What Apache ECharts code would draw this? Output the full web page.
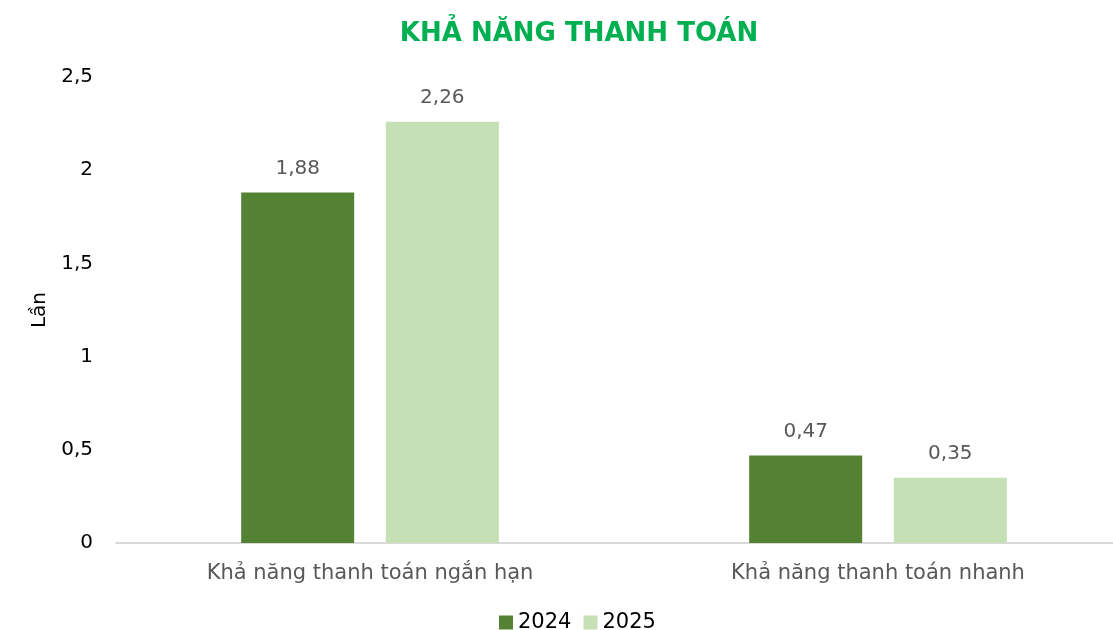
<!DOCTYPE html>
<html>
<head>
<meta charset="utf-8">
<script src="https://cdn.jsdelivr.net/npm/echarts@6/dist/echarts.min.js"></script>
<style>
  html, body { margin: 0; padding: 0; background: #fff; }
  #chart { width: 1113px; height: 630px; }
</style>
</head>
<body>
<div id="chart"></div>
<script>
const categories = ['Khả năng thanh toán ngắn hạn', 'Khả năng thanh toán nhanh'];
const values2024 = [1.88, 0.47];
const values2025 = [2.26, 0.35];

const chart = echarts.init(document.getElementById('chart'));
const font = '"DejaVu Sans", "Noto Sans", sans-serif';

const fmt = (v) => String(v).replace('.', ',');

const labelStyle = {
  show: true,
  position: 'top',
  distance: 14,
  color: '#595959',
  fontSize: 20,
  fontFamily: font,
  formatter: (p) => fmt(p.value)
};

chart.setOption({
  animation: false,
  title: {
    text: 'KHẢ NĂNG THANH TOÁN',
    left: 574,
    textAlign: 'center',
    top: 16,
    textStyle: { color: '#00b050', fontSize: 26, fontWeight: 'bold', fontFamily: font }
  },
  legend: {
    bottom: -8,
    left: 494,
    itemWidth: 14,
    itemHeight: 14,
    itemGap: 12,
    icon: 'rect',
    textStyle: { color: '#000', fontSize: 21, fontFamily: font }
  },
  grid: { left: 116, width: 1016, top: 77, height: 466, outerBoundsMode: 'none' },
  xAxis: {
    type: 'category',
    data: categories,
    axisLine: { lineStyle: { color: '#d9d9d9', width: 2 } },
    axisTick: { show: false },
    axisLabel: { color: '#595959', fontSize: 21, fontFamily: font, margin: 20 }
  },
  yAxis: {
    type: 'value',
    min: 0,
    max: 2.5,
    interval: 0.5,
    name: 'Lần',
    nameLocation: 'middle',
    nameGap: 66,
    nameRotate: 90,
    nameTextStyle: { color: '#000', fontSize: 20, fontFamily: font },
    axisLine: { show: false },
    axisTick: { show: false },
    splitLine: { show: false },
    axisLabel: { color: '#000', fontSize: 20, fontFamily: font, margin: 23, formatter: (v) => fmt(v) }
  },
  series: [
    {
      name: '2024',
      type: 'bar',
      data: values2024,
      itemStyle: { color: '#548235' },
      barWidth: 113,
      barGap: '28%',
      label: labelStyle
    },
    {
      name: '2025',
      type: 'bar',
      data: values2025,
      itemStyle: { color: '#c5e0b4' },
      barWidth: 113,
      label: labelStyle
    }
  ]
});
</script>
</body>
</html>
